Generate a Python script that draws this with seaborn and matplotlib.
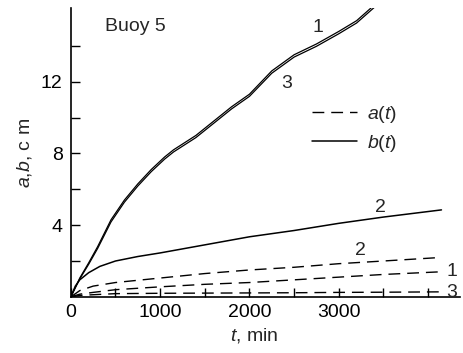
import matplotlib
matplotlib.use("Agg")
import matplotlib.pyplot as plt
import seaborn as sns
import pandas as pd
from matplotlib.ticker import FixedLocator, MultipleLocator
from matplotlib.lines import Line2D

# ---- data ----
t_b13 = [0, 100, 200, 300, 450, 600, 750, 900, 1050, 1150, 1400, 1600, 1800,
         2000, 2250, 2500, 2750, 3000, 3200, 3450]
b1 = [0, 1.05, 1.9, 2.8, 4.3, 5.4, 6.3, 7.1, 7.8, 8.2, 9.0, 9.8, 10.6,
      11.3, 12.6, 13.5, 14.1, 14.8, 15.4, 16.5]
b3 = [0, 1.0, 1.82, 2.7, 4.18, 5.28, 6.18, 6.98, 7.68, 8.08, 8.88, 9.68, 10.48,
      11.18, 12.47, 13.37, 13.97, 14.67, 15.27, 16.37]
t_b2 = [0, 50, 100, 200, 325, 500, 750, 1000, 1500, 2000, 2500, 3000, 3500, 4150]
b2 = [0, 0.6, 0.95, 1.35, 1.7, 2.0, 2.25, 2.45, 2.9, 3.35, 3.7, 4.1, 4.45, 4.85]
t_a = [0, 100, 250, 500, 1000, 1500, 2000, 2500, 3000, 3500, 4150]
a2 = [0, 0.35, 0.6, 0.8, 1.05, 1.3, 1.5, 1.65, 1.85, 2.0, 2.2]
a1 = [0, 0.15, 0.25, 0.4, 0.56, 0.7, 0.8, 0.95, 1.1, 1.25, 1.4]
a3 = [0, 0.08, 0.12, 0.18, 0.2, 0.21, 0.22, 0.23, 0.25, 0.26, 0.28]

x_major = [0, 1000, 2000, 3000]
y_major = [4, 8, 12]
y_minor = [2, 6, 10, 14]

sns.set_style("ticks")
plt.rcParams['font.family'] = ['Liberation Sans', 'DejaVu Sans']
plt.rcParams['mathtext.fontset'] = 'custom'
plt.rcParams['mathtext.it'] = 'Liberation Sans:italic'
plt.rcParams['mathtext.rm'] = 'Liberation Sans'

fig = plt.figure(figsize=(4.63, 3.53), dpi=100)
ax = fig.add_axes([0.153, 0.159, 0.841, 0.818])

def df(t, v):
    return pd.DataFrame({"t": t, "v": v})

k = "black"
dash = (8.5, 5)
sns.lineplot(data=df(t_b13, b1), x="t", y="v", ax=ax, color=k, lw=0.9)
sns.lineplot(data=df(t_b13, b3), x="t", y="v", ax=ax, color=k, lw=0.9)
sns.lineplot(data=df(t_b2, b2), x="t", y="v", ax=ax, color=k, lw=1.1)
for vals in (a2, a1, a3):
    sns.lineplot(data=df(t_a, vals), x="t", y="v", ax=ax, color=k, lw=1.0,
                 linestyle=(0, dash))

ax.set_xlim(0, 4360)
ax.set_ylim(0, 16.1)
for s in ("top", "right"):
    ax.spines[s].set_visible(False)
for s in ("left", "bottom"):
    ax.spines[s].set_linewidth(1.2)
    ax.spines[s].set_color(k)

ax.xaxis.set_major_locator(FixedLocator(x_major))
ax.xaxis.set_minor_locator(MultipleLocator(500))
ax.yaxis.set_major_locator(FixedLocator(y_major))
ax.yaxis.set_minor_locator(FixedLocator(y_minor))
ax.tick_params(which="both", direction="in", length=6.5, width=1.0, colors=k,
               labelsize=14)
ax.tick_params(axis="x", pad=5)
ax.tick_params(axis="y", pad=6)

ax.set_xlabel(r"$t$, min", fontsize=14)
ax.set_ylabel(r"$a$,$b$, c m", fontsize=14)
ax.xaxis.set_label_coords(0.47, -0.1)
ax.yaxis.set_label_coords(-0.095, 0.5)

fs = 14
ax.text(0.088, 0.935, "Buoy 5", transform=ax.transAxes, fontsize=fs, va="center")
ax.text(2766, 15.0, "1", fontsize=fs, ha="center", va="center")
ax.text(2420, 11.9, "3", fontsize=fs, ha="center", va="center")
ax.text(3471, 5.0, "2", fontsize=fs, ha="center", va="center")
ax.text(3247, 2.6, "2", fontsize=fs, ha="center", va="center")
ax.text(4266, 1.4, "1", fontsize=fs, ha="center", va="center")
ax.text(4266, 0.25, "3", fontsize=fs, ha="center", va="center")

handles = [Line2D([], [], color=k, lw=1.0, linestyle=(0, dash)),
           Line2D([], [], color=k, lw=1.1)]
ax.legend(handles, [r"$a(t)$", r"$b(t)$"], loc="center left",
          bbox_to_anchor=(0.62, 0.581), frameon=False, fontsize=14,
          borderpad=0, borderaxespad=0,
          handlelength=2.3, handletextpad=0.5, labelspacing=0.4)

fig.savefig("out.png", dpi=100)
